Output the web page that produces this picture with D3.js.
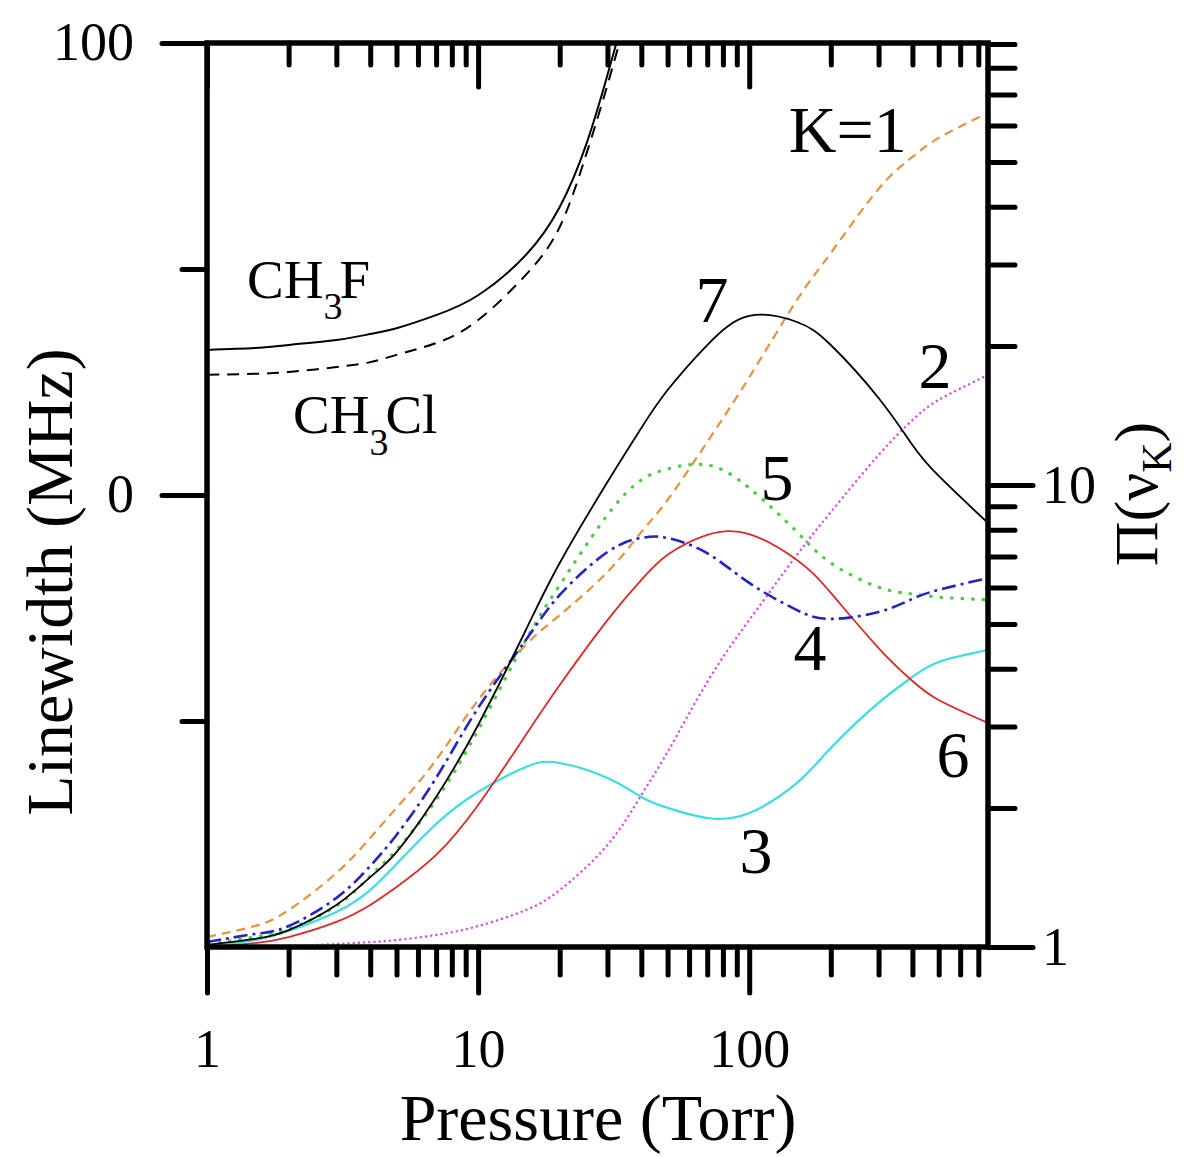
<!DOCTYPE html>
<html>
<head>
<meta charset="utf-8">
<script src="https://cdn.jsdelivr.net/npm/d3@7"></script>
<style>
body { margin: 0; background: #fff; }
text { font-family: "Liberation Serif", "Times New Roman", serif; fill: #000; }
</style>
</head>
<body>
<svg id="chart" width="1188" height="1157"></svg>
<script>
// pressure grid (Torr) for the Pi(nu_K) curves
var pressure = [1, 1.5, 2, 3, 4, 5, 7, 10, 15, 20, 30, 40, 50, 70, 100, 150, 200, 300, 400, 500, 760];

// Pi(nu_K), right axis (log)
var piK1 = [1.051, 1.110, 1.202, 1.446, 1.722, 2.000, 2.540, 3.424, 4.505, 5.23, 6.48, 7.91, 9.28, 12.39, 17.1, 25.15, 31.78, 43.73, 51.3, 56.4, 63.9];
var piK2 = [1.0, 1.0, 1.005, 1.015, 1.025, 1.035, 1.062, 1.110, 1.202, 1.328, 1.663, 2.133, 2.643, 3.746, 5.10, 7.06, 8.74, 11.61, 13.82, 15.28, 17.3];
var piK3 = [1.0, 1.035, 1.083, 1.190, 1.328, 1.512, 1.846, 2.165, 2.453, 2.502, 2.322, 2.112, 2.000, 1.902, 1.950, 2.265, 2.696, 3.375, 3.841, 4.139, 4.395];
var piK4 = [1.025, 1.067, 1.110, 1.277, 1.497, 1.748, 2.322, 3.291, 4.618, 5.78, 7.16, 7.68, 7.68, 7.12, 6.14, 5.36, 5.13, 5.31, 5.67, 5.93, 6.29];
var piK5 = [1.015, 1.051, 1.094, 1.227, 1.425, 1.622, 2.080, 2.949, 4.618, 6.07, 8.61, 10.25, 10.83, 11.05, 9.85, 7.91, 6.78, 6.01, 5.81, 5.72, 5.64];
var piK6 = [1.0, 1.020, 1.051, 1.133, 1.233, 1.348, 1.582, 2.029, 2.877, 3.690, 5.10, 6.23, 7.06, 7.80, 7.83, 6.88, 5.84, 4.437, 3.765, 3.424, 3.054];
var piK7 = [1.010, 1.041, 1.088, 1.233, 1.417, 1.605, 2.112, 3.024, 4.854, 6.78, 10.15, 13.29, 16.05, 20.09, 23.22, 22.53, 20.09, 15.43, 12.21, 10.46, 8.27];

// linewidth (MHz), left axis
var pressureCH = [1, 1.5, 2, 3, 4, 5, 7, 10, 15, 20, 25, 30, 35];
var ch3fWidth = [32.1, 32.5, 33.2, 34.3, 35.6, 36.9, 39.8, 44.2, 53.1, 63.7, 77.4, 92.9, 107.3];
var ch3clWidth = [26.6, 26.8, 27.2, 28.3, 29.4, 31.0, 33.6, 38.7, 48.7, 59.3, 75.2, 90.7, 105.1];

var xMajor = [1, 10, 100];
var piMajor = [1, 10];
var lwMajor = [100, 0];
var lwMinor = [50, -50];

var curveLabels = [
  {text: "K=1", p: 231, v: 52.6},
  {text: "7", p: 72.9, v: 22.5},
  {text: "2", p: 485, v: 16.2},
  {text: "5", p: 126.6, v: 9.28},
  {text: "4", p: 167.6, v: 3.98},
  {text: "6", p: 565, v: 2.333},
  {text: "3", p: 105.9, v: 1.446}
];

var plotL = 207, plotR = 988, plotT = 43, plotB = 947;

var svg = d3.select("#chart");

var x = d3.scaleLog().domain([1, 760]).range([plotL, plotR]);
var yPi = d3.scaleLog().domain([1, 90.5]).range([plotB, plotT]);
var yLw = d3.scaleLinear().domain([-100, 100]).range([plotB, plotT]);

svg.append("defs").append("clipPath").attr("id", "plotclip")
  .append("rect")
    .attr("x", plotL).attr("y", plotT)
    .attr("width", plotR - plotL).attr("height", plotB - plotT);

var plot = svg.append("g").attr("clip-path", "url(#plotclip)");

var piLine = d3.line()
  .x(function(d) { return x(d[0]); })
  .y(function(d) { return yPi(d[1]); })
  .curve(d3.curveNatural);

var lwLine = d3.line()
  .x(function(d) { return x(d[0]); })
  .y(function(d) { return yLw(d[1]); })
  .curve(d3.curveNatural);

var series = [
  {vals: piK2, color: "#dd48dd", dash: "2.2,3", w: 2.2},
  {vals: piK3, color: "#3adede", dash: null, w: 2.2},
  {vals: piK6, color: "#e02828", dash: null, w: 1.8},
  {vals: piK5, color: "#4ccc44", dash: "3.5,7", w: 3},
  {vals: piK1, color: "#e8923c", dash: "9,6", w: 2.2},
  {vals: piK4, color: "#2323c8", dash: "14,5,3,5", w: 2.6},
  {vals: piK7, color: "#000", dash: null, w: 1.8}
];

series.forEach(function(s) {
  plot.append("path")
    .datum(d3.zip(pressure, s.vals))
    .attr("fill", "none")
    .attr("stroke", s.color)
    .attr("stroke-width", s.w)
    .attr("stroke-dasharray", s.dash)
    .attr("d", piLine);
});

plot.append("path")
  .datum(d3.zip(pressureCH, ch3clWidth))
  .attr("fill", "none").attr("stroke", "#000").attr("stroke-width", 2)
  .attr("stroke-dasharray", "12,8")
  .attr("d", lwLine);

plot.append("path")
  .datum(d3.zip(pressureCH, ch3fWidth))
  .attr("fill", "none").attr("stroke", "#000").attr("stroke-width", 2)
  .attr("d", lwLine);

// axes
function styleAxis(g) {
  g.select(".domain").remove();
  g.selectAll(".tick line")
    .attr("stroke", "#000").attr("stroke-width", 5).attr("stroke-linecap", "round");
  g.selectAll("text")
    .attr("font-family", "Liberation Serif, Times New Roman, serif")
    .attr("font-size", 54).attr("fill", "#000");
}

var xMinor = x.ticks().filter(function(d) { return xMajor.indexOf(d) < 0; });
var piMinor = yPi.ticks().filter(function(d) { return piMajor.indexOf(d) < 0; });

svg.append("g").attr("transform", "translate(0," + plotB + ")")
  .call(d3.axisBottom(x).tickValues(xMinor).tickSize(28).tickFormat(""))
  .call(styleAxis);
svg.append("g").attr("transform", "translate(0," + plotB + ")")
  .call(d3.axisBottom(x).tickValues(xMajor).tickSize(46).tickFormat(d3.format("d")))
  .call(styleAxis)
  .call(function(g) { g.selectAll("text").attr("y", 120).attr("dy", 0); });

svg.append("g").attr("transform", "translate(0," + plotT + ")")
  .call(d3.axisTop(x).tickValues(xMinor).tickSize(-22).tickFormat(""))
  .call(styleAxis);
svg.append("g").attr("transform", "translate(0," + plotT + ")")
  .call(d3.axisTop(x).tickValues(xMajor).tickSize(-44).tickFormat(""))
  .call(styleAxis);

svg.append("g").attr("transform", "translate(" + plotL + ",0)")
  .call(d3.axisLeft(yLw).tickValues(lwMinor).tickSize(25).tickFormat(""))
  .call(styleAxis);
svg.append("g").attr("transform", "translate(" + plotL + ",0)")
  .call(d3.axisLeft(yLw).tickValues(lwMajor).tickSize(45).tickPadding(28).tickFormat(d3.format("d")))
  .call(styleAxis)
  .call(function(g) { g.selectAll("text").attr("dy", "0.3em"); });

svg.append("g").attr("transform", "translate(" + plotR + ",0)")
  .call(d3.axisRight(yPi).tickValues(piMinor).tickSize(27).tickFormat(""))
  .call(styleAxis);
svg.append("g").attr("transform", "translate(" + plotR + ",0)")
  .call(d3.axisRight(yPi).tickValues(piMajor).tickSize(45).tickPadding(9).tickFormat(d3.format("d")))
  .call(styleAxis)
  .call(function(g) { g.selectAll("text").attr("dy", "0.33em"); });

// frame
svg.append("rect")
  .attr("x", plotL).attr("y", plotT)
  .attr("width", plotR - plotL).attr("height", plotB - plotT)
  .attr("fill", "none").attr("stroke", "#000").attr("stroke-width", 5.5);

// titles
svg.append("text")
  .attr("x", 598).attr("y", 1140)
  .attr("text-anchor", "middle").attr("font-size", 66)
  .text("Pressure (Torr)");

svg.append("text")
  .attr("transform", "translate(72,582) rotate(-90)")
  .attr("text-anchor", "middle").attr("font-size", 66)
  .text("Linewidth (MHz)");

var rt = svg.append("text")
  .attr("transform", "translate(1157,494) rotate(-90)")
  .attr("text-anchor", "middle").attr("font-size", 62);
rt.append("tspan").text("\u03A0(\u03BD");
rt.append("tspan").attr("font-size", 42).attr("dy", 14).text("K");
rt.append("tspan").attr("dy", -14).text(")");

// molecule labels
var f = svg.append("text").attr("x", 247).attr("y", 298).attr("font-size", 55);
f.append("tspan").text("CH");
f.append("tspan").attr("font-size", 38).attr("dy", 21).text("3");
f.append("tspan").attr("dy", -21).attr("dx", -3).text("F");

var cl = svg.append("text").attr("x", 293).attr("y", 433).attr("font-size", 55);
cl.append("tspan").text("CH");
cl.append("tspan").attr("font-size", 38).attr("dy", 22).text("3");
cl.append("tspan").attr("dy", -22).attr("dx", -3).text("Cl");

// curve labels, placed in data coordinates
svg.append("g").selectAll("text").data(curveLabels).enter().append("text")
  .attr("x", function(d) { return x(d.p); })
  .attr("y", function(d) { return yPi(d.v); })
  .attr("text-anchor", "middle")
  .attr("font-size", 66)
  .text(function(d) { return d.text; });
</script>
</body>
</html>
